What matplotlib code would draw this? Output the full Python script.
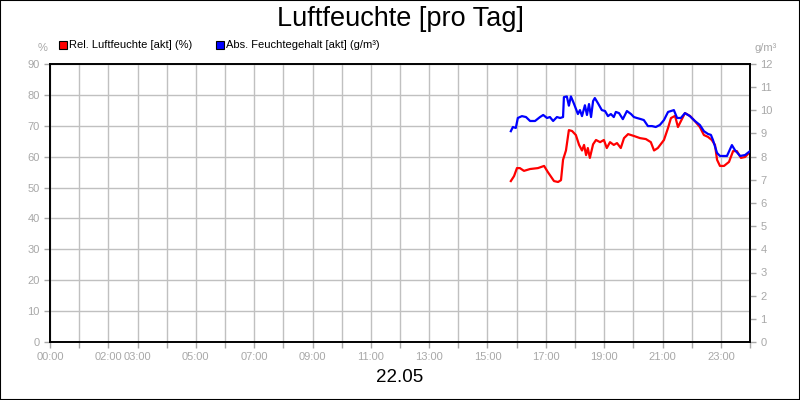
import matplotlib.pyplot as plt
from matplotlib.patches import Rectangle

plt.rcParams['font.family'] = ['Liberation Sans', 'DejaVu Sans']

# relative Luftfeuchte (%), Zeit in Stunden
rel_time = [15.80, 15.91, 16.01, 16.11, 16.25, 16.46, 16.73, 16.94, 17.07, 17.28,
            17.42, 17.52, 17.59, 17.69, 17.79, 17.90, 18.03, 18.14, 18.24, 18.31,
            18.38, 18.44, 18.51, 18.62, 18.72, 18.86, 18.99, 19.09, 19.20, 19.33,
            19.44, 19.57, 19.68, 19.82, 20.02, 20.23, 20.43, 20.60, 20.71, 20.84,
            21.05, 21.19, 21.29, 21.43, 21.53, 21.63, 21.77, 21.94, 22.11, 22.28,
            22.42, 22.56, 22.69, 22.80, 22.87, 22.97, 23.11, 23.28, 23.42, 23.55,
            23.69, 23.83, 24.00]
rel_hum = [52.1, 53.7, 56.3, 56.3, 55.4, 56.0, 56.3, 57.0, 55.0, 52.1,
           51.8, 52.4, 59.0, 62.0, 68.6, 68.3, 67.0, 63.8, 62.0, 63.8,
           60.5, 62.8, 59.6, 64.0, 65.4, 64.7, 65.4, 62.8, 64.7, 63.8,
           64.4, 62.8, 66.0, 67.3, 66.7, 66.0, 65.7, 64.7, 62.0, 62.8,
           65.4, 69.3, 72.5, 73.2, 69.6, 71.5, 74.1, 73.2, 71.5, 69.6,
           67.0, 66.4, 65.4, 63.8, 59.0, 57.0, 57.0, 58.3, 61.8, 61.8,
           59.6, 59.9, 61.5]

# absoluter Feuchtegehalt (g/m³)
abs_time = [15.80, 15.87, 15.97, 16.04, 16.18, 16.32, 16.46, 16.63, 16.80, 16.91,
            17.04, 17.14, 17.25, 17.38, 17.49, 17.59, 17.62, 17.72, 17.79, 17.86,
            17.96, 18.10, 18.17, 18.24, 18.34, 18.41, 18.48, 18.55, 18.62, 18.68,
            18.79, 18.92, 19.03, 19.13, 19.23, 19.33, 19.40, 19.51, 19.64, 19.78,
            19.92, 20.02, 20.12, 20.26, 20.36, 20.50, 20.64, 20.77, 20.91, 21.05,
            21.19, 21.29, 21.39, 21.50, 21.63, 21.77, 21.94, 22.11, 22.28, 22.42,
            22.56, 22.66, 22.73, 22.87, 22.97, 23.21, 23.38, 23.48, 23.66, 23.83,
            24.00]
abs_hum = [9.10, 9.28, 9.24, 9.67, 9.75, 9.71, 9.54, 9.54, 9.71, 9.80,
           9.67, 9.71, 9.54, 9.71, 9.67, 9.71, 10.57, 10.60, 10.20, 10.60,
           10.30, 9.84, 10.01, 9.75, 10.22, 9.80, 10.27, 9.71, 10.40, 10.53,
           10.30, 10.01, 9.97, 9.75, 9.84, 9.71, 9.93, 9.88, 9.62, 9.97,
           9.84, 9.71, 9.67, 9.62, 9.58, 9.32, 9.32, 9.28, 9.37, 9.58,
           9.93, 9.97, 10.01, 9.67, 9.67, 9.88, 9.75, 9.54, 9.37, 9.10,
           8.98, 8.94, 8.72, 8.16, 8.03, 8.03, 8.50, 8.29, 8.03, 8.07,
           8.24]

hour_labels = {0: '00:00', 2: '02:00', 3: '03:00', 5: '05:00', 7: '07:00', 9: '09:00',
               11: '11:00', 13: '13:00', 15: '15:00', 17: '17:00', 19: '19:00',
               21: '21:00', 23: '23:00'}

gray = '#a8a8a8'
grid = '#c0c0c0'

fig = plt.figure(figsize=(8, 4), dpi=100)
fig.patches.append(Rectangle((0, 0), 1, 1, transform=fig.transFigure, fill=False,
                             edgecolor='black', linewidth=1.5))

ax = fig.add_axes([50 / 800, 58 / 400, 700 / 800, 278 / 400])
ax.set_xlim(0, 24)
ax.set_ylim(0, 90)
ax.set_xticks(range(25))
ax.set_xticklabels([hour_labels.get(h, '') for h in range(25)])
ax.set_yticks(range(0, 91, 10))
ax.grid(True, color=grid, linewidth=1)
ax.set_axisbelow(True)
ax.tick_params(colors=gray, labelcolor=gray, labelsize=8, length=4, width=1)
for s in ax.spines.values():
    s.set_color('black')
    s.set_linewidth(1.2)

ax.plot(rel_time, rel_hum, color='#ff0000', linewidth=1.6, zorder=3)

ax2 = ax.twinx()
ax2.set_ylim(0, 12)
ax2.set_yticks(range(13))
ax2.tick_params(colors=gray, labelcolor=gray, labelsize=8, length=4, width=1)
for s in ax2.spines.values():
    s.set_color('black')
    s.set_linewidth(1.2)
ax2.plot(abs_time, abs_hum, color='#0000ff', linewidth=1.6, zorder=3)

fig.text(0.5, 0.953, 'Luftfeuchte [pro Tag]', ha='center', va='center', fontsize=19.5)
fig.text(0.5, 0.055, '22.05', ha='center', va='center', fontsize=13.5)
fig.text(43 / 800, 1 - 48 / 400, '%', ha='center', va='center', fontsize=8, color=gray)
fig.text(766 / 800, 1 - 48 / 400, 'g/m³', ha='center', va='center', fontsize=8, color=gray)

# Legende
for x0, col, txt in [(59, '#ff0000', 'Rel. Luftfeuchte [akt] (%)'),
                     (216, '#0000ff', 'Abs. Feuchtegehalt [akt] (g/m³)')]:
    fig.patches.append(Rectangle((x0 / 800, 1 - 49 / 400), 8 / 800, 8 / 400,
                                 transform=fig.transFigure, facecolor=col,
                                 edgecolor='black', linewidth=0.8))
    fig.text((x0 + 10) / 800, 1 - 45 / 400, txt, ha='left', va='center', fontsize=8)

fig.savefig('out.png', dpi=100)
